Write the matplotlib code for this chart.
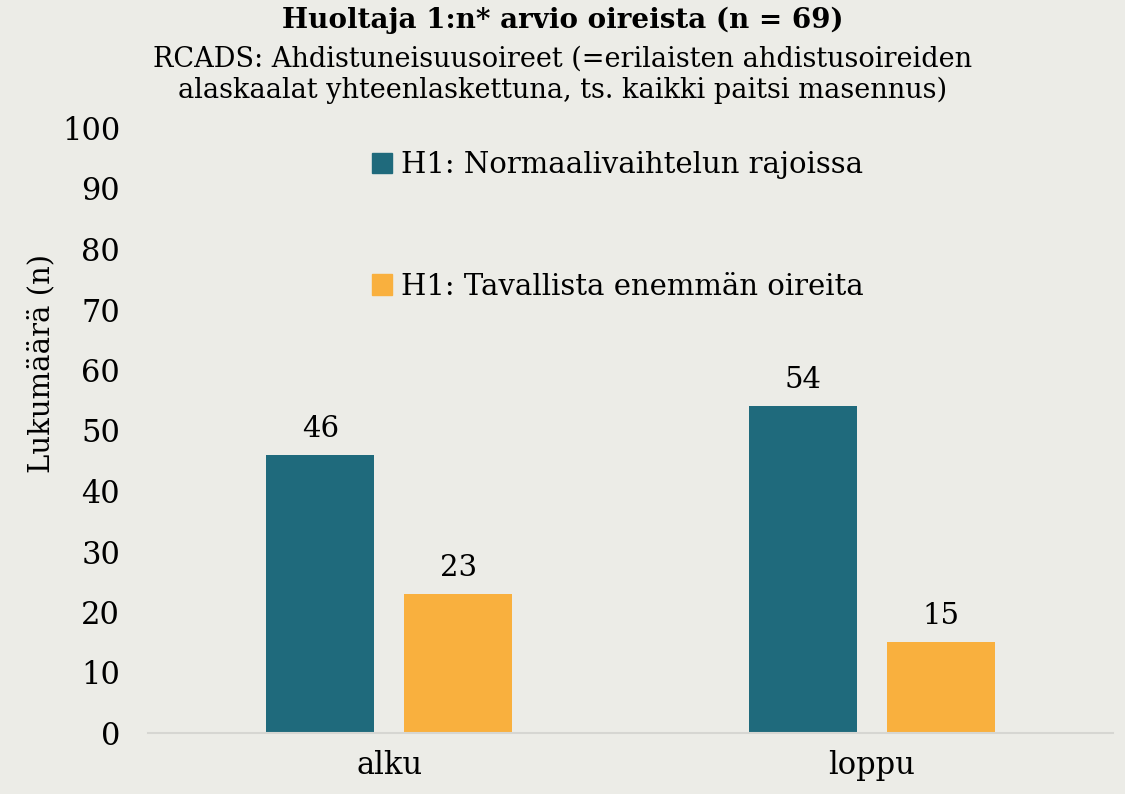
import numpy as np
import matplotlib.pyplot as plt
from matplotlib.patches import Patch

# data
categories = ['alku', 'loppu']
normaali = [46, 54]
enemman = [23, 15]
series_labels = ['H1: Normaalivaihtelun rajoissa', 'H1: Tavallista enemmän oireita']
yticks = list(range(0, 101, 10))

bg = '#ECECE7'
teal = '#1F6A7C'
orange = '#F9B03E'

plt.rcParams['font.family'] = ['DejaVu Serif']

fig = plt.figure(figsize=(11.25, 7.94), dpi=100, facecolor=bg)
ax = fig.add_axes([148 / 1125, 1 - 733 / 794, 965 / 1125, 605 / 794])
ax.set_facecolor(bg)

x = np.arange(len(categories))
w = 0.224
off = 0.143
b1 = ax.bar(x - off, normaali, w, color=teal)
b2 = ax.bar(x + off, enemman, w, color=orange)

for bars, vals in ((b1, normaali), (b2, enemman)):
    for b, v in zip(bars, vals):
        ax.text(b.get_x() + b.get_width() / 2, v + 2, str(v), ha='center', va='bottom',
                fontsize=21)

ax.set_xlim(-0.5, 1.5)
ax.set_ylim(0, 100)
ax.set_yticks(yticks)
ax.set_xticks(x)
ax.set_xticklabels(categories)
ax.tick_params(axis='both', length=0, labelsize=22)
ax.tick_params(axis='x', pad=12)
ax.tick_params(axis='y', pad=20)
for s in ['top', 'right', 'left']:
    ax.spines[s].set_visible(False)
ax.spines['bottom'].set_color('#D6D6D2')
ax.spines['bottom'].set_linewidth(1.5)

ax.set_ylabel('Lukumäärä (n)', fontsize=21)
ax.yaxis.set_label_coords(-93 / 965, 0.61)

handles = [Patch(color=teal), Patch(color=orange)]
leg = ax.legend(handles, series_labels, loc='upper left', bbox_to_anchor=(0.205, 1.005),
                frameon=False, fontsize=21, handlelength=0.7, handleheight=0.7,
                handletextpad=0.3, labelspacing=3.2)

fig.text(0.5, 1 - 20 / 794, 'Huoltaja 1:n* arvio oireista (n = 69)', ha='center', va='center',
         fontsize=20, fontweight='bold')
fig.text(0.5, 1 - 75 / 794,
         'RCADS: Ahdistuneisuusoireet (=erilaisten ahdistusoireiden\n'
         'alaskaalat yhteenlaskettuna, ts. kaikki paitsi masennus)',
         ha='center', va='center', fontsize=19.5, linespacing=1.2)

fig.savefig('out.png', dpi=100, facecolor=bg)
